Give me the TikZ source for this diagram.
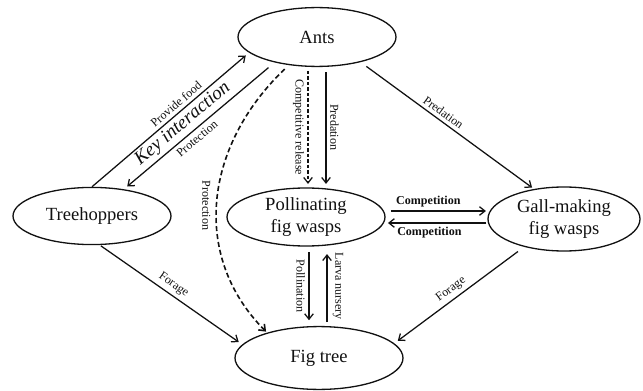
\documentclass[tikz,border=0pt]{standalone}
\usepackage{fontspec}
\setmainfont{Liberation Serif}
\usepackage{tikz}
\usetikzlibrary{arrows.meta,calc,shapes.geometric}
\definecolor{ink}{HTML}{111111}
\newcommand{\nds}{\rmfamily\fontsize{18.5}{21.5}\selectfont}
\newcommand{\lbs}{\rmfamily\fontsize{12}{13.5}\selectfont}
\newcommand{\kys}{\rmfamily\fontsize{19}{22}\selectfont\itshape}

\begin{document}
\begin{tikzpicture}[
  x=0.35mm, y=-0.35mm, text=ink, font=\lbs,
  sp/.style={ellipse, draw=ink, line width=1.3pt, inner sep=0pt, align=center, font=\nds},
  ar/.style={-{Straight Barb[length=1.9mm,width=3mm]}, line width=1.25pt, draw=ink, shorten >=1.2mm},
  da/.style={ar, dash pattern=on 3.5pt off 2pt},
  lb/.style={font=\lbs, inner sep=3.5pt},
  cb/.style={font=\lbs\bfseries, inner sep=3.5pt},
]
\useasboundingbox (0,0) rectangle (643,391);
% ---------------- species ----------------
\node[sp, minimum width=55.3mm, minimum height=20.6mm] (ants) at (317,37) {Ants};
\node[sp, minimum width=55.3mm, minimum height=20mm] (hop) at (92,216) {Treehoppers};
\node[sp, minimum width=55.3mm, minimum height=20.3mm] (poll) at (306,217) {Pollinating\\fig wasps};
\node[sp, minimum width=53.2mm, minimum height=22.4mm] (gall) at (564,219) {Gall-making\\fig wasps};
\node[sp, minimum width=58.8mm, minimum height=22mm] (fig) at (319,358) {Fig tree};

% ---------------- ants and treehoppers ----------------
\draw[ar, shorten >=1.5mm] (hop.north) -- (ants.193) node[lb, pos=0.57, sloped, above] {Provide food};
\draw[ar, shorten <=2.8mm, shorten >=1.5mm] (ants.211) -- (hop.40) node[lb, pos=0.55, sloped, below] {Protection};
\node[font=\kys, rotate=40, inner sep=1pt] (key) at (183,124) {Key interaction};

% ---------------- ants to the wasps ----------------
\draw[da, shorten <=1.3mm] ($(ants.south)+(-9,0)$) -- ($(poll.north)+(2,0)$)
  node[lb, midway, rotate=-90, anchor=north] {Competitive release};
\draw[ar, shorten <=1.8mm] ($(ants.south)+(9,0)$) -- ($(poll.north)+(20,0)$)
  node[lb, midway, rotate=-90, anchor=south] {Predation};
\draw[ar, shorten <=2.5mm, shorten >=0.8mm] (ants.-30) -- (gall.135) node[lb, pos=0.45, sloped, above] {Predation};
\draw[ar, line width=1.6pt, dash pattern=on 5pt off 3pt, shorten <=2mm, shorten >=0.5mm]
  (ants.225) .. controls (205,145) and (190,255) .. (fig.154)
  node[lb, pos=0.52, rotate=-90, anchor=north, inner sep=6pt] {Protection};

% ---------------- wasps ----------------
\draw[ar, shorten <=1.8mm, shorten >=0.5mm] ($(poll.east)+(0,-6)$) -- ($(gall.west)+(0,-8)$)
  node[cb, pos=0.42, above] {Competition};
\draw[ar, shorten <=0.3mm, shorten >=0.8mm] ($(gall.west)+(0,4)$) -- ($(poll.east)+(0,6)$)
  node[cb, pos=0.57, below] {Competition};
\draw[ar, shorten <=2mm, shorten >=2mm] ($(poll.south)+(3,0)$) -- ($(fig.north)+(-10,0)$)
  node[lb, midway, rotate=-90, anchor=north] {Pollination};
\draw[ar, shorten <=1.3mm, shorten >=2.6mm] ($(fig.north)+(8,0)$) -- ($(poll.south)+(21,0)$)
  node[lb, midway, rotate=-90, anchor=south, inner sep=5pt] {Larva nursery};

% ---------------- foraging on the fig ----------------
\draw[ar, shorten <=0.5mm, shorten >=1.5mm] (hop.-75) -- (fig.170) node[lb, pos=0.48, sloped, above] {Forage};
\draw[ar, shorten <=2.7mm, shorten >=1.5mm] (gall.215) -- (fig.11) node[lb, pos=0.52, sloped, above] {Forage};
\end{tikzpicture}
\end{document}
